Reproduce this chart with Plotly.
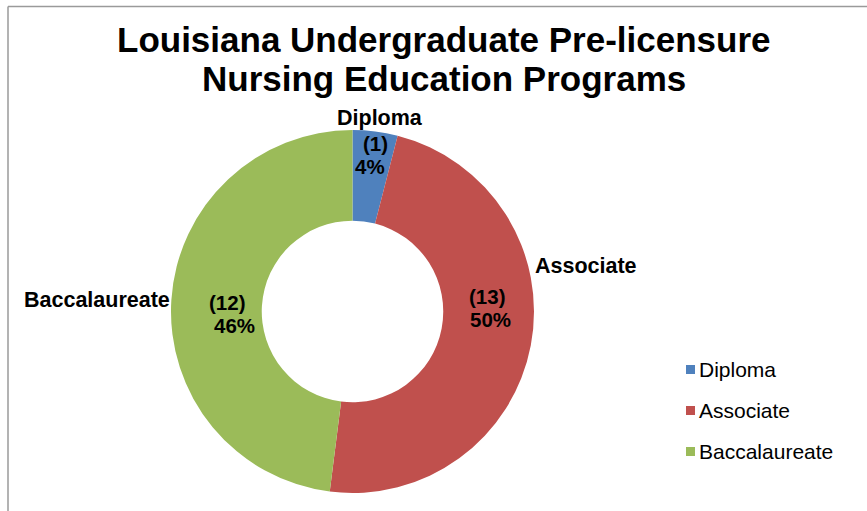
import plotly.graph_objects as go

# ---- data ----
categories = ["Diploma", "Associate", "Baccalaureate"]
count_labels = [1, 13, 12]          # counts printed on the slices
percent_labels = [4, 50, 46]        # percentages printed on the slices
slice_values = [1, 12, 12]          # slice sizes as drawn in the picture (~14°, ~173°, ~173°)
colors = ["#4F81BD", "#C0504D", "#9BBB59"]
title_lines = ["Louisiana Undergraduate Pre-licensure", "Nursing Education Programs"]

W, H = 867, 511
FONT = "Liberation Sans, Arial, sans-serif"

def px(x):
    return x / W

def py(y):
    return 1 - y / H

fig = go.Figure()
fig.add_trace(go.Pie(
    labels=categories,
    values=slice_values,
    hole=0.5,
    sort=False,
    direction="clockwise",
    rotation=0,
    marker=dict(colors=colors, line=dict(width=0)),
    textinfo="none",
    hoverinfo="label",
    showlegend=False,
    domain=dict(x=[px(171), px(534)], y=[py(493), py(130)]),
))

annotations = []
# title, two tight lines
title_pos = [(444, 39), (444, 78.5)]
for line, (x, y) in zip(title_lines, title_pos):
    annotations.append(dict(text=f"<b>{line}</b>", x=px(x), y=py(y), xref="paper", yref="paper",
                            xanchor="center", yanchor="middle", showarrow=False,
                            font=dict(family=FONT, size=35, color="#000")))

# outer category labels
outer_pos = [(380, 118, "center"), (533, 266, "left"), (172, 300, "right")]
for cat, (x, y, anc) in zip(categories, outer_pos):
    annotations.append(dict(text=f"<b>{cat}</b>", x=px(x), y=py(y), xref="paper", yref="paper",
                            xanchor=anc, yanchor="middle", showarrow=False,
                            font=dict(family=FONT, size=21.5, color="#000")))

# inner value labels: (count) and percent on separate tight lines
inner_pos = [((375, 143), (370, 166)), ((487, 296), (490, 319)), ((227, 302), (234, 325))]
for c, p, (p1, p2) in zip(count_labels, percent_labels, inner_pos):
    annotations.append(dict(text=f"<b>({c})</b>", x=px(p1[0]), y=py(p1[1]), xref="paper", yref="paper",
                            xanchor="center", yanchor="middle", showarrow=False,
                            font=dict(family=FONT, size=20.5, color="#000")))
    annotations.append(dict(text=f"<b>{p}%</b>", x=px(p2[0]), y=py(p2[1]), xref="paper", yref="paper",
                            xanchor="center", yanchor="middle", showarrow=False,
                            font=dict(family=FONT, size=20.5, color="#000")))

# manual legend
shapes = []
leg_y = [369, 410, 451]
for cat, col, y in zip(categories, colors, leg_y):
    shapes.append(dict(type="rect", xref="paper", yref="paper",
                       x0=px(686), x1=px(695), y0=py(y + 5), y1=py(y - 4),
                       fillcolor=col, line=dict(width=0)))
    annotations.append(dict(text=cat, x=px(697), y=py(y), xref="paper", yref="paper",
                            xanchor="left", yanchor="middle", showarrow=False,
                            font=dict(family=FONT, size=21, color="#000")))

# chart frame (top and left edges visible)
shapes.append(dict(type="line", xref="paper", yref="paper", x0=px(8), x1=1.0, y0=py(6.5), y1=py(6.5),
                   line=dict(color="#9a9a9a", width=1.5)))
shapes.append(dict(type="line", xref="paper", yref="paper", x0=px(8), x1=px(8), y0=py(6.5), y1=0,
                   line=dict(color="#9a9a9a", width=1.5)))

fig.update_layout(
    width=W, height=H,
    margin=dict(l=0, r=0, t=0, b=0),
    paper_bgcolor="white", plot_bgcolor="white",
    annotations=annotations,
    shapes=shapes,
    showlegend=False,
)

fig.write_html("out.html", config={"displayModeBar": False},
               post_script="document.body.style.margin='0';")
